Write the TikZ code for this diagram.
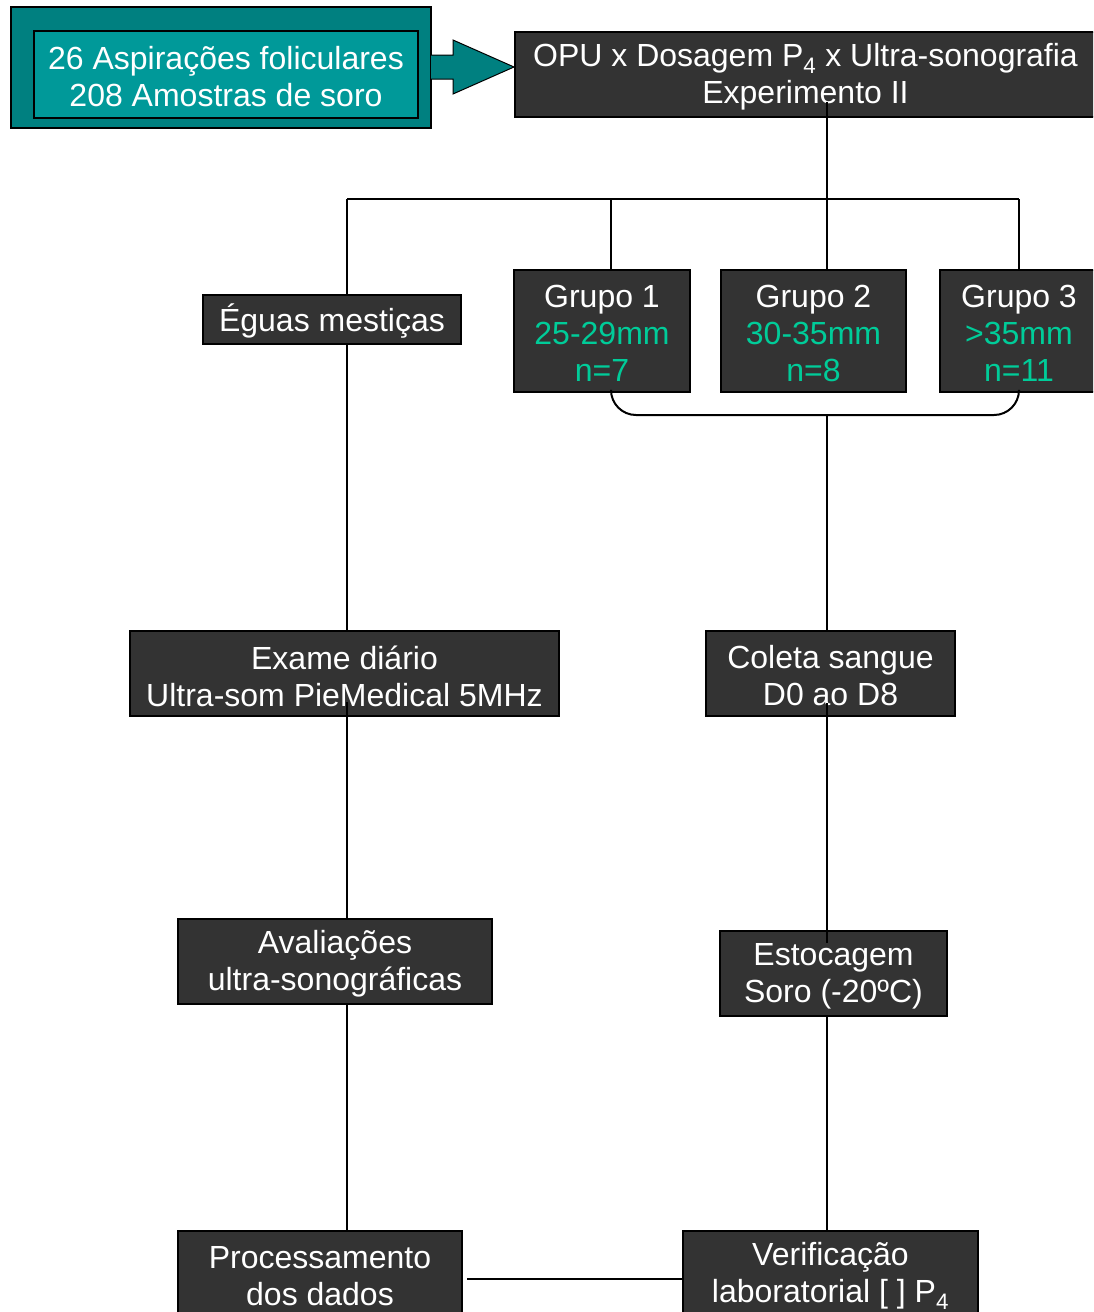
\documentclass[tikz,border=0pt]{standalone}
\usepackage{fontspec}
\setmainfont{Liberation Sans}
\definecolor{darkbox}{HTML}{333333}
\definecolor{tealout}{HTML}{008080}
\definecolor{tealin}{HTML}{009999}
\definecolor{greentxt}{HTML}{00CC99}
\tikzset{
  dbox/.style={draw=black, line width=1.5pt, fill=darkbox, inner sep=0pt},
  lbl/.style={text=white, align=center, inner sep=0pt, yshift=-2.5pt, font=\fontsize{32}{37}\selectfont},
  conn/.style={draw=black, line width=2pt},
}
\begin{document}
\begin{tikzpicture}[x=1pt,y=-1pt]
\useasboundingbox (0,0) rectangle (1093,1312);
\clip (0,0) rectangle (1093,1312);
% teal source
\node[draw=black, line width=1.5pt, fill=tealout, minimum width=420pt, minimum height=121pt, inner sep=0pt] (outer) at (221,67.5) {};
\node[dbox, fill=tealin, minimum width=384pt, minimum height=87pt,
  label={[lbl]center:26 Aspirações foliculares\\208 Amostras de soro}] (src) at (226,74.5) {};
\draw[fill=tealout, draw=black, line width=1pt] (431,55) -- (453,55) -- (453,40) -- (514,67) -- (453,94) -- (453,79) -- (431,79);
\node[dbox, minimum width=581pt, minimum height=85pt,
  label={[lbl]center:OPU x Dosagem P\textsubscript{4} x Ultra-sonografia\\Experimento II}] (opu) at (805.5,74.5) {};
% groups
\node[dbox, minimum width=176pt, minimum height=122pt,
  label={[lbl]center:Grupo 1\\\textcolor{greentxt}{25-29mm}\\\textcolor{greentxt}{n=7}}] (g1) at (602,331) {};
\node[dbox, minimum width=185pt, minimum height=122pt,
  label={[lbl]center:Grupo 2\\\textcolor{greentxt}{30-35mm}\\\textcolor{greentxt}{n=8}}] (g2) at (813.5,331) {};
\node[dbox, minimum width=158pt, minimum height=122pt,
  label={[lbl]center:Grupo 3\\\textcolor{greentxt}{>35mm}\\\textcolor{greentxt}{n=11}}] (g3) at (1019,331) {};
\node[dbox, minimum width=258pt, minimum height=49pt,
  label={[lbl,yshift=1pt]center:Éguas mestiças}] (eguas) at (332,319.5) {};
% left column
\node[dbox, minimum width=429pt, minimum height=85pt,
  label={[lbl]center:Exame diário\\Ultra-som PieMedical 5MHz}] (exame) at (344.5,673.5) {};
\node[dbox, minimum width=314pt, minimum height=85pt,
  label={[lbl]center:Avaliações\\ultra-sonográficas}] (aval) at (335,961.5) {};
\node[dbox, minimum width=284pt, minimum height=85pt,
  label={[lbl]center:Processamento\\dos dados}] (proc) at (320,1273.5) {};
% right column
\node[dbox, minimum width=249pt, minimum height=85pt,
  label={[lbl]center:Coleta sangue\\D0 ao D8}] (coleta) at (830.5,673.5) {};
\node[dbox, minimum width=227pt, minimum height=85pt,
  label={[lbl]center:Estocagem\\Soro (-20ºC)}] (estoc) at (833.5,973.5) {};
\node[dbox, minimum width=295pt, minimum height=85pt,
  label={[lbl]center:Verificação\\laboratorial [ ] P\textsubscript{4}}] (verif) at (830.5,1273.5) {};
% coordinates
\coordinate (opuout) at (827,102);
\coordinate (hubL) at (347,199);
\coordinate (hubR) at (1019,199);
\coordinate (hub1) at (611,199);
\coordinate (hub2) at (827,199);
\coordinate (brk) at (827,415);
\coordinate (exameout) at (347,702);
\coordinate (coletaout) at (827,703);
\coordinate (estocin) at (827,943);
\coordinate (procout) at (467,1279);
% connectors
\draw[conn] (opuout) -- (hub2);
\draw[conn] (hubL) -- (hubR);
\draw[conn] (hubL) -- (eguas.north -| hubL);
\draw[conn] (hub1) -- (g1.north -| hub1);
\draw[conn] (hub2) -- (g2.north -| hub2);
\draw[conn] (hubR) -- (g3.north -| hubR);
\draw[conn, rounded corners=25pt] (g1.south -| hub1) -- (611,415) -- (1019,415) -- (g3.south -| hubR);
\draw[conn] (brk) -- (coleta.north -| brk);
\draw[conn] (coletaout) -- (estocin);
\draw[conn] (estoc.south -| brk) -- (verif.north -| brk);
\draw[conn] (eguas.south -| hubL) -- (exame.north -| hubL);
\draw[conn] (exameout) -- (aval.north -| hubL);
\draw[conn] (aval.south -| hubL) -- (proc.north -| hubL);
\draw[conn] (procout) -- (verif.west |- procout);
\end{tikzpicture}
\end{document}
